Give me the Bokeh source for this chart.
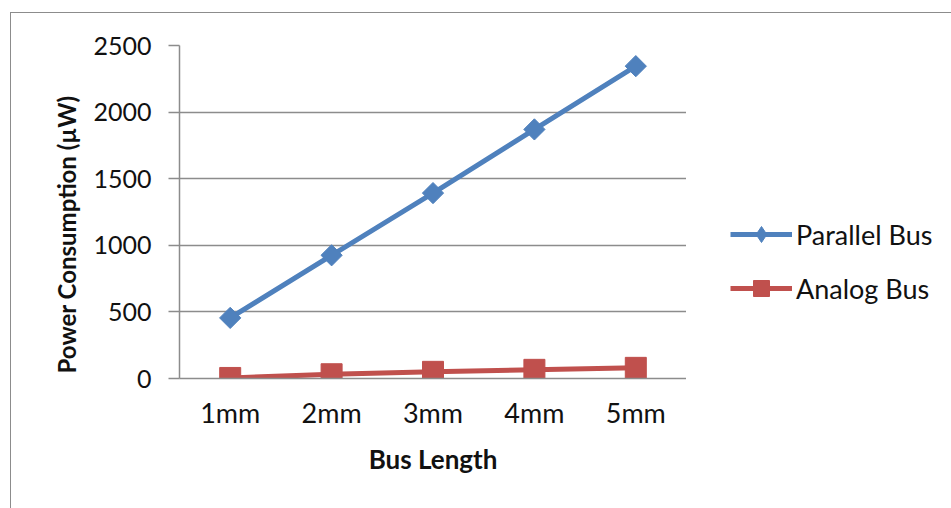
import math
from bokeh.plotting import figure
from bokeh.layouts import row
from bokeh.models import Legend, LegendItem, FixedTicker, Range1d, FactorRange, Title
from bokeh.embed import file_html
from bokeh.resources import INLINE

# Power consumption per bus length (µW)
bus_lengths = ["1mm", "2mm", "3mm", "4mm", "5mm"]
parallel_bus = [455, 925, 1392, 1870, 2345]
analog_bus = [4, 32, 50, 65, 80]
y_ticks = [0, 500, 1000, 1500, 2000, 2500]

FONT = "Lato"
GRID = "#8c8c8c"
BLUE = "#4F81BD"
RED = "#C0504D"
INK = "#111111"

# ---- main chart ----
p = figure(
    x_range=FactorRange(factors=bus_lengths, range_padding=0),
    y_range=Range1d(0, 2500),
    width=675, height=495,
    output_backend="svg", toolbar_location=None,
    min_border_left=168, min_border_top=32,
    min_border_right=0, min_border_bottom=130,
)
p.outline_line_color = None
p.background_fill_color = "white"
p.border_fill_color = "white"

p.xgrid.grid_line_color = None
p.ygrid.grid_line_color = GRID
p.ygrid.grid_line_width = 1.5
p.ygrid.ticker = FixedTicker(ticks=y_ticks)

p.yaxis.ticker = FixedTicker(ticks=y_ticks)
p.yaxis.axis_line_color = GRID
p.yaxis.axis_line_width = 1.5
p.yaxis.major_tick_line_color = GRID
p.yaxis.major_tick_line_width = 1.5
p.yaxis.major_tick_out = 11
p.yaxis.major_tick_in = 0
p.yaxis.minor_tick_line_color = None
p.yaxis.major_label_standoff = 17
p.yaxis.major_label_text_font = FONT
p.yaxis.major_label_text_font_size = "25px"
p.yaxis.major_label_text_color = INK

# y axis title as a side title, starting a little above the x axis
ytitle = Title(
    text="Power Consumption (µW)", align="left", offset=5, standoff=20,
    text_font=FONT, text_font_size="24px", text_font_style="bold",
    text_color=INK,
)
p.add_layout(ytitle, "left")

p.xaxis.axis_line_color = GRID
p.xaxis.axis_line_width = 1.5
p.xaxis.major_tick_line_color = None
p.xaxis.major_tick_out = 0
p.xaxis.major_tick_in = 0
p.xaxis.minor_tick_line_color = None
p.xaxis.major_label_standoff = 17
p.xaxis.major_label_text_font = FONT
p.xaxis.major_label_text_font_size = "27px"
p.xaxis.major_label_text_color = INK
p.xaxis.axis_label = "Bus Length"
p.xaxis.axis_label_text_font = FONT
p.xaxis.axis_label_text_font_size = "26px"
p.xaxis.axis_label_text_font_style = "bold"
p.xaxis.axis_label_text_color = INK
p.xaxis.axis_label_standoff = 11

p.line(bus_lengths, parallel_bus, line_color=BLUE, line_width=5)
p.scatter(bus_lengths, parallel_bus, marker="square", size=15,
          angle=math.pi / 4, fill_color=BLUE, line_color=BLUE)
p.line(bus_lengths, analog_bus, line_color=RED, line_width=5)
p.scatter(bus_lengths, analog_bus, marker="square", size=21,
          fill_color=RED, line_color=RED)

# ---- legend panel to the right of the chart ----
# the series are repeated here (outside the visible y range) only so the
# legend can sample their line and marker styles
lg = figure(
    x_range=FactorRange(factors=bus_lengths, range_padding=0),
    y_range=Range1d(-2, -1),
    width=265, height=495,
    x_axis_type=None, y_axis_type=None,
    output_backend="svg", toolbar_location=None,
    min_border=0,
)
lg.outline_line_color = None
lg.grid.visible = False
lg.background_fill_color = "white"
lg.border_fill_color = "white"

lpl = lg.line(bus_lengths, parallel_bus, line_color=BLUE, line_width=5)
lpm = lg.scatter(bus_lengths, parallel_bus, marker="diamond", size=14,
                 fill_color=BLUE, line_color=BLUE)
lal = lg.line(bus_lengths, analog_bus, line_color=RED, line_width=5)
lam = lg.scatter(bus_lengths, analog_bus, marker="square", size=18,
                 fill_color=RED, line_color=RED)

legend = Legend(
    items=[
        LegendItem(label="Parallel Bus", renderers=[lpl, lpm]),
        LegendItem(label="Analog Bus", renderers=[lal, lam]),
    ],
    location=(44, 70),
    border_line_color=None,
    background_fill_alpha=0,
    glyph_width=62, glyph_height=40, label_height=40,
    spacing=14, padding=0, margin=0, label_standoff=4,
    label_text_font=FONT, label_text_font_size="27px",
    label_text_color=INK,
)
lg.add_layout(legend)

layout = row(p, lg)
layout.styles = {
    "margin-left": "10px", "margin-top": "12px",
    "border-left": f"1px solid {GRID}", "border-top": f"1px solid {GRID}",
}

open("out.html", "w").write(file_html(layout, INLINE))
